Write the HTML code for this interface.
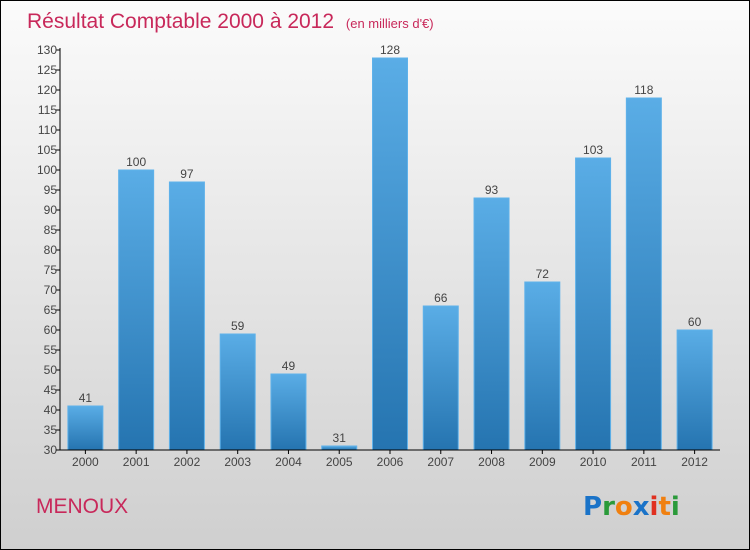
<!DOCTYPE html>
<html><head><meta charset="utf-8"><style>
body{margin:0;width:750px;height:550px;overflow:hidden}
svg{display:block;font-family:"Liberation Sans",sans-serif}
</style></head><body>
<svg id="c" width="750" height="550">
<defs>
<linearGradient id="bg" x1="0" y1="0" x2="0" y2="1"><stop offset="0" stop-color="#fbfbfb"/><stop offset="1" stop-color="#cfcfcf"/></linearGradient>
<linearGradient id="bar" x1="0" y1="0" x2="0" y2="1"><stop offset="0" stop-color="#5aade6"/><stop offset="1" stop-color="#2574b0"/></linearGradient>
</defs>
<rect x="0.5" y="0.5" width="749" height="549" fill="url(#bg)" stroke="#000"/>
<text x="27" y="28" font-size="21" fill="#c8285a">Résultat Comptable 2000 à 2012 <tspan font-size="13" dx="6">(en milliers d'€)</tspan></text>
<text x="36" y="513" font-size="21" fill="#c8285a">MENOUX</text>
<g font-size="26" font-weight="bold" font-family="'DejaVu Sans',sans-serif">
<text x="583" y="515"><tspan fill="#1a73c8">P</tspan><tspan fill="#2a9a3a">r</tspan><tspan fill="#f08010">o</tspan><tspan fill="#1a73c8">x</tspan><tspan fill="#e03020">i</tspan><tspan fill="#f08010">t</tspan><tspan fill="#2a9a3a">i</tspan></text>
</g>
<g id="plot"></g>
</svg>
<script>
const categories=["2000","2001","2002","2003","2004","2005","2006","2007","2008","2009","2010","2011","2012"];
const values=[41,100,97,59,49,31,128,66,93,72,103,118,60];
const ticks=[30,35,40,45,50,55,60,65,70,75,80,85,90,95,100,105,110,115,120,125,130];
const NS="http://www.w3.org/2000/svg";
const g=document.getElementById('plot');
const x0=60,x1=720,yMin=30,yMax=130,yB=450,yT=50;
const y=v=>yB-(v-yMin)/(yMax-yMin)*(yB-yT);
const step=(x1-x0)/categories.length;
const xc=i=>x0+step*(i+0.5);
function el(t,a){const e=document.createElementNS(NS,t);for(const k in a)e.setAttribute(k,a[k]);g.appendChild(e);return e;}
ticks.forEach(t=>{
 const l=el('line',{x1:x0-4,x2:x0,y1:y(t),y2:y(t),stroke:'#000'});
 
 
 const tx=el('text',{x:x0-3,y:y(t)+4,'font-size':12,fill:'#444','text-anchor':'end'});
 tx.textContent=t;
 
 
});
categories.forEach((c,i)=>{
 const v=values[i];
 const r=el('rect',{x:xc(i)-17.5,y:y(v),width:35,height:yB-y(v),fill:'url(#bar)',stroke:'#5fb2ea','stroke-width':1});
 
 
 const vl=el('text',{x:xc(i),y:y(v)-4,'font-size':12,fill:'#444','text-anchor':'middle'});
 vl.textContent=v;
 
 
 const tk=el('line',{x1:xc(i),x2:xc(i),y1:yB,y2:yB+4,stroke:'#000'});
 
 
 const xl=el('text',{x:xc(i),y:yB+16,'font-size':12,fill:'#444','text-anchor':'middle'});
 xl.textContent=c;
 
 
});
const ya=el('line',{x1:x0,x2:x0,y1:yT-2,y2:yB,stroke:'#000'});


const xa=el('line',{x1:x0-4,x2:x1,y1:yB,y2:yB,stroke:'#000'});


</script>
</body></html>
